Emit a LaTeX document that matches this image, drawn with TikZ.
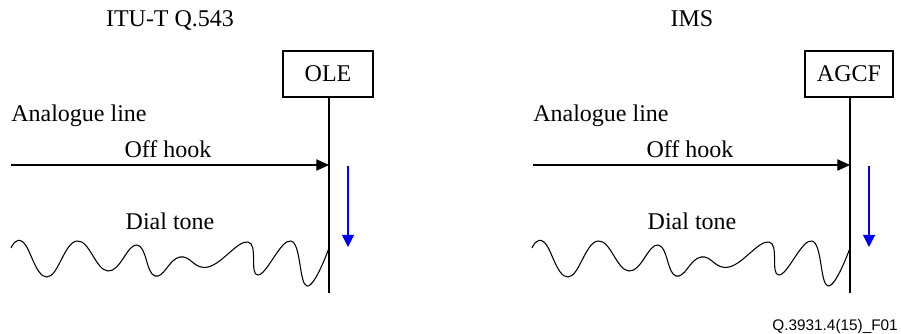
\documentclass[tikz,border=0pt]{standalone}
\usepackage{fontspec}
\setmainfont{Liberation Serif}
\newfontfamily\labelsans{Liberation Sans}
\usetikzlibrary{arrows.meta}
\begin{document}
\begin{tikzpicture}[x=0.75pt,y=-0.75pt,
  txt/.style={font=\fontsize{18}{20}\selectfont, inner sep=0pt},
  entity/.style={draw, line width=0.8pt, font=\fontsize{18}{20}\selectfont, minimum height=34.5pt, inner sep=0pt},
  lifeline/.style={line width=0.8pt},
  msg/.style={line width=0.8pt, -{Triangle[length=9.5pt,width=8.5pt]}},
  tone/.style={line width=0.8pt, blue, -{Triangle[length=9pt,width=9pt]}},
  wave/.style={line width=0.8pt}
]
\useasboundingbox (0,0) rectangle (901,334);

% ---------- left panel ----------
\node[txt, anchor=base] (t1) at (170,27) {ITU-T Q.543};
\node[entity, minimum width=67.5pt] (ole) at (328,74) {OLE};
\coordinate (oleB) at (329,293);
\draw[lifeline] (ole.south -| oleB) -- (oleB);
\node[txt, anchor=base west] (al1) at (11,122) {Analogue line};
\coordinate (oh1s) at (11,165);
\coordinate (oh1e) at (329,165);
\draw[msg] (oh1s) -- (oh1e);
\node[txt, anchor=base] (ohl1) at (168,158) {Off hook};
\node[txt, anchor=base] (dt1) at (170,230) {Dial tone};
\coordinate (b1s) at (348,166);
\coordinate (b1e) at (348,247);
\draw[tone] (b1s) -- (b1e);
\draw[wave] plot[smooth, tension=0.75] coordinates {(11,248) (23,242) (47,277) (77,241) (108,271) (137,245) (155,276) (180,257) (208,267) (248,242) (258,275) (291,241) (307,286) (329,248)};

% ---------- right panel ----------
\node[txt, anchor=base] (t2) at (692,27) {IMS};
\node[entity, minimum width=66pt] (agcf) at (849,74) {AGCF};
\coordinate (agcfB) at (850,293);
\draw[lifeline] (agcf.south -| agcfB) -- (agcfB);
\node[txt, anchor=base west] (al2) at (533,122) {Analogue line};
\coordinate (oh2s) at (533,165);
\coordinate (oh2e) at (850,165);
\draw[msg] (oh2s) -- (oh2e);
\node[txt, anchor=base] (ohl2) at (690,158) {Off hook};
\node[txt, anchor=base] (dt2) at (692,230) {Dial tone};
\coordinate (b2s) at (869,166);
\coordinate (b2e) at (869,247);
\draw[tone] (b2s) -- (b2e);
\begin{scope}[xshift=521*0.75pt]
\draw[wave] plot[smooth, tension=0.75] coordinates {(11,248) (23,242) (47,277) (77,241) (108,271) (137,245) (155,276) (180,257) (208,267) (248,242) (258,275) (291,241) (307,286) (329,248)};
\end{scope}

\node[anchor=base east, inner sep=0pt, font=\labelsans\fontsize{11.5}{13}\selectfont] (fig) at (898,331) {Q.3931.4(15)\_F01};
\end{tikzpicture}
\end{document}
